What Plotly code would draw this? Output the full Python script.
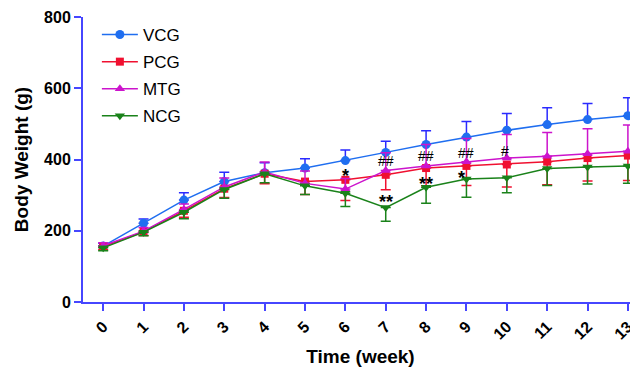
import plotly.graph_objects as go

weeks = list(range(14))
tick_labels = [str(w) for w in weeks]

vcg = [157, 221, 286, 338, 363, 376, 397, 420, 442, 463, 482, 498, 512, 523]
vcg_err = [8, 12, 21, 26, 28, 26, 30, 31, 39, 44, 47, 47, 45, 50]
pcg = [155, 197, 256, 318, 360, 338, 343, 357, 376, 382, 386, 394, 404, 411]
pcg_err = [8, 10, 18, 25, 28, 36, 58, 42, 50, 55, 63, 65, 64, 70]
mtg = [158, 199, 260, 323, 365, 333, 317, 369, 382, 394, 404, 409, 416, 423]
mtg_err = [8, 10, 15, 25, 28, 35, 30, 50, 60, 65, 66, 67, 70, 74]
ncg = [152, 196, 252, 316, 360, 326, 305, 265, 322, 345, 349, 375, 379, 382]
ncg_err = [8, 10, 18, 25, 25, 24, 37, 38, 45, 51, 42, 48, 48, 49]

sig_x = [6, 7, 7, 8, 8, 9, 8.87, 9.95]
sig_y = [355, 396, 282, 409, 332, 418, 348, 424]
sig_text = ["*", "##", "**", "##", "**", "##", "*", "#"]

FONT = "Arial, Liberation Sans, sans-serif"
AX = "#4646ff"

fig = go.Figure()

def add(name, y, err, up, line_col, err_col, symbol, size):
    zeros = [0] * len(err)
    fig.add_trace(go.Scatter(
        x=weeks, y=y, name=name, mode="lines+markers",
        line=dict(color=line_col, width=1.5),
        marker=dict(symbol=symbol, size=size, color=line_col),
        error_y=dict(type="data", symmetric=False,
                     array=err if up else zeros,
                     arrayminus=zeros if up else err,
                     color=err_col, thickness=1.5, width=5),
        legendgroup=name,
    ))

add("VCG", vcg, vcg_err, True, "#1f6ef0", "#2a2aff", "circle", 9)
add("PCG", pcg, pcg_err, False, "#f01030", "#f01030", "square", 8)
add("MTG", mtg, mtg_err, True, "#cc14cc", "#cc14cc", "triangle-up", 9)
add("NCG", ncg, ncg_err, False, "#1a821a", "#1a821a", "triangle-down", 9)

for x, y, t in zip(sig_x, sig_y, sig_text):
    is_star = "*" in t
    fig.add_annotation(x=x, y=y, text=("<b>%s</b>" % t) if is_star else t, showarrow=False,
                       font=dict(family=FONT, size=18 if is_star else 14, color="black"),
                       xanchor="center", yanchor="middle")

fig.update_layout(
    width=630, height=361,
    margin=dict(l=75, r=0, t=9, b=67),
    paper_bgcolor="white", plot_bgcolor="white",
    font=dict(family=FONT, color="black"),
    showlegend=True,
    legend=dict(x=0.025, y=1.0, xanchor="left", yanchor="top",
                font=dict(family=FONT, size=17, color="black"),
                bgcolor="rgba(0,0,0,0)", traceorder="grouped",
                tracegroupgap=2, itemwidth=36),
    xaxis=dict(
        range=[-0.5, 13.25], tickmode="array", tickvals=weeks, ticktext=tick_labels,
        tickangle=-45, showgrid=False, zeroline=False,
        showline=True, linecolor=AX, linewidth=2,
        ticks="outside", tickcolor=AX, ticklen=7, tickwidth=2,
        tickfont=dict(family=FONT, size=16, color="black", weight="bold"),
        title=dict(text="<b>Time (week)</b>", font=dict(family=FONT, size=19, color="black"), standoff=8),
    ),
    yaxis=dict(
        range=[0, 800], tickvals=[0, 200, 400, 600, 800],
        showgrid=False, zeroline=False,
        showline=True, linecolor=AX, linewidth=2,
        ticks="outside", tickcolor=AX, ticklen=7, tickwidth=2,
        tickfont=dict(family=FONT, size=16, color="black", weight="bold"),
        title=dict(text="<b>Body Weight (g)</b>", font=dict(family=FONT, size=19, color="black"), standoff=10),
    ),
)

fig.write_html("out.html")
